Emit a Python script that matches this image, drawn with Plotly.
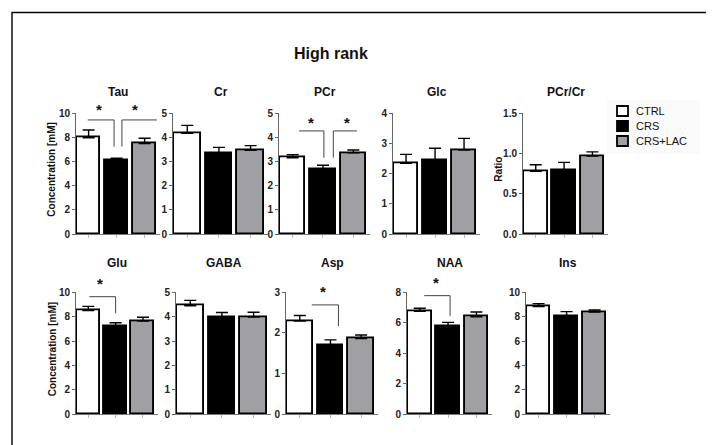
import plotly.graph_objects as go

W, H = 714, 445
PAGE_OFFSET = 8  # the page body margin shifts the figure by this many pixels

groups = ["CTRL", "CRS", "CRS+LAC"]
group_colors = ["#ffffff", "#000000", "#9f9fa4"]

metabolites = ["Tau", "Cr", "PCr", "Glc", "PCr/Cr", "Glu", "GABA", "Asp", "NAA", "Ins"]
ctrl_mean = [7.98, 4.17, 3.16, 2.34, 0.78, 8.50, 4.45, 2.29, 6.75, 8.83]
ctrl_err = [0.64, 0.33, 0.13, 0.30, 0.08, 0.35, 0.22, 0.14, 0.20, 0.24]
crs_mean = [6.08, 3.36, 2.67, 2.43, 0.79, 7.19, 3.99, 1.70, 5.79, 8.06]
crs_err = [0.19, 0.23, 0.18, 0.41, 0.10, 0.32, 0.18, 0.13, 0.24, 0.36]
lac_mean = [7.49, 3.47, 3.36, 2.78, 0.97, 7.65, 3.99, 1.86, 6.40, 8.39]
lac_err = [0.44, 0.19, 0.12, 0.39, 0.05, 0.30, 0.19, 0.09, 0.31, 0.16]
y_max = [10, 5, 5, 4, 1.5, 10, 5, 3, 8, 10]
y_dtick = [2, 1, 1, 1, 0.5, 2, 1, 1, 2, 2]
y_format = ["d", "d", "d", "d", ".1f", "d", "d", "d", "d", "d"]
y_titles = {0: "Concentration [mM]", 4: "Ratio", 5: "Concentration [mM]"}
title_text = "High rank"

# significance brackets: panel, x start, x end, x of vertical drop, level, drop-to, star x, star y
brackets = [
    (0, -0.03, 0.91, 0.91, 9.45, 7.24, 0.37, 10.3),
    (0, 1.19, 2.44, 1.19, 9.45, 7.24, 1.66, 10.3),
    (2, 0.21, 1.03, 1.03, 4.27, 3.16, 0.60, 4.62),
    (2, 1.34, 2.12, 1.34, 4.27, 3.16, 1.78, 4.62),
    (5, 0.04, 1.00, 1.00, 9.64, 8.28, 0.43, 10.7),
    (7, 0.39, 1.26, 1.26, 2.69, 2.17, 0.75, 3.01),
    (8, 0.16, 1.07, 1.07, 7.78, 6.45, 0.57, 8.62),
]

# layout (pixels, in reference image coordinates)
x_px = [(76, 160), (173, 268), (279, 370), (393, 480), (523, 608),
        (76, 158), (176, 271), (286, 378), (407, 492), (526, 610)]
row_px = [(113.3, 234.0), (292.3, 414.3)]
title_y_px = [92, 263]


def px_x(v):
    return (v - PAGE_OFFSET) / W


def px_y(v):
    return 1 - (v - PAGE_OFFSET) / H


FONT = "Liberation Sans, Arial, sans-serif"
means = [ctrl_mean, crs_mean, lac_mean]
errs = [ctrl_err, crs_err, lac_err]

fig = go.Figure()
layout = dict(
    width=W, height=H, autosize=False,
    margin=dict(l=0, r=0, t=0, b=0, pad=0, autoexpand=False),
    paper_bgcolor="white", plot_bgcolor="rgba(0,0,0,0)",
    showlegend=False, bargap=0,
    font=dict(family=FONT, color="#222"),
)
annotations = []
shapes = []

for i, name in enumerate(metabolites):
    n = i + 1
    xk = "x" if n == 1 else f"x{n}"
    yk = "y" if n == 1 else f"y{n}"
    row = 0 if i < 5 else 1
    for g, grp in enumerate(groups):
        fig.add_trace(go.Bar(
            x=[g], y=[means[g][i]], width=[0.84], name=grp,
            marker=dict(color=group_colors[g], line=dict(color="#000", width=1.9)),
            error_y=dict(type="data", symmetric=False, array=[errs[g][i]],
                         arrayminus=[0], color="#000", thickness=1.4, width=6),
            xaxis=xk, yaxis=yk, showlegend=False, hoverinfo="skip",
        ))
    x0, x1 = x_px[i]
    top, bot = row_px[row]
    layout["xaxis" if n == 1 else f"xaxis{n}"] = dict(
        domain=[px_x(x0), px_x(x1)], anchor=yk, range=[-0.45, 2.55], automargin=False,
        showgrid=False, zeroline=False, showline=True, linecolor="#777", linewidth=1,
        tickvals=[0, 1, 2], ticks="outside", ticklen=3, tickcolor="#bbb",
        showticklabels=False, fixedrange=True,
    )
    layout["yaxis" if n == 1 else f"yaxis{n}"] = dict(
        domain=[px_y(bot), px_y(top)], anchor=xk, range=[0, y_max[i]], automargin=False,
        dtick=y_dtick[i], tick0=0, tickformat=y_format[i],
        showgrid=False, zeroline=False, showline=True, linecolor="#666", linewidth=1,
        ticks="outside", ticklen=3, tickcolor="#666",
        tickfont=dict(size=10, weight="bold", color="#222", family=FONT),
        fixedrange=True,
    )
    annotations.append(dict(
        text=f"<b>{name}</b>", x=px_x((x0 + x1) / 2), y=px_y(title_y_px[row]),
        xref="paper", yref="paper", showarrow=False, xanchor="center", yanchor="middle",
        font=dict(size=12, color="#111", family=FONT),
    ))
    if i in y_titles:
        annotations.append(dict(
            text=f"<b>{y_titles[i]}</b>", x=px_x(x0 - 24), y=px_y((top + bot) / 2 - 4),
            xref="paper", yref="paper", showarrow=False, textangle=-90,
            xanchor="center", yanchor="middle",
            font=dict(size=10, color="#111", family=FONT),
        ))

for (p, xa, xb, xv, lvl, drop, sx, sy) in brackets:
    n = p + 1
    xk = "x" if n == 1 else f"x{n}"
    yk = "y" if n == 1 else f"y{n}"
    if xv == xb:
        path = f"M {xa},{lvl} L {xb},{lvl} L {xb},{drop}"
    else:
        path = f"M {xa},{drop} L {xa},{lvl} L {xb},{lvl}"
    shapes.append(dict(type="path", path=path, xref=xk, yref=yk,
                       line=dict(color="#444", width=1)))
    annotations.append(dict(
        text="<b>*</b>", x=sx, y=sy / y_max[p], xref=xk, yref=f"{yk} domain",
        showarrow=False, xanchor="center", yanchor="middle",
        font=dict(size=15, color="#111", family=FONT),
    ))

# main title
annotations.append(dict(
    text=f"<b>{title_text}</b>", x=px_x(331), y=px_y(53), xref="paper", yref="paper",
    showarrow=False, xanchor="center", yanchor="middle",
    font=dict(size=16, color="#111", family=FONT),
))

# legend (drawn manually for compact spacing)
shapes.append(dict(type="rect", xref="paper", yref="paper",
                   x0=px_x(607), x1=px_x(700), y0=px_y(154), y1=px_y(100),
                   fillcolor="#fafafa", line=dict(width=0), layer="below"))
leg_y = [111, 126, 141]
for g, grp in enumerate(groups):
    cy = leg_y[g]
    shapes.append(dict(type="rect", xref="paper", yref="paper",
                       x0=px_x(617), x1=px_x(628), y0=px_y(cy + 5), y1=px_y(cy - 5),
                       fillcolor=group_colors[g], line=dict(color="#000", width=1.8)))
    annotations.append(dict(
        text=grp, x=px_x(634), y=px_y(cy), xref="paper", yref="paper", showarrow=False,
        xanchor="left", yanchor="middle", font=dict(size=11, color="#111", family=FONT),
    ))

# outer frame
shapes.append(dict(type="path", xref="paper", yref="paper",
                   path=f"M {px_x(12)},0 L {px_x(12)},{px_y(12.5)} L 1,{px_y(12.5)}",
                   line=dict(color="#000", width=1.4)))

layout["annotations"] = annotations
layout["shapes"] = shapes
fig.update_layout(**layout)
fig.write_html("out.html")
